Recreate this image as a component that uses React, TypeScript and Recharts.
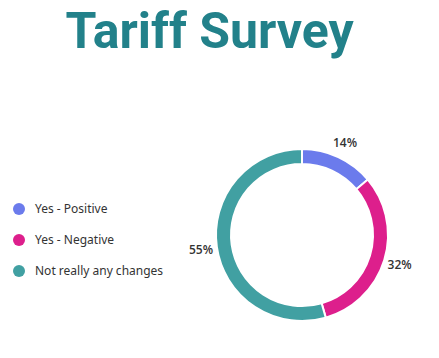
import { Cell, Pie, PieChart } from 'recharts';

const categories = ['Yes - Positive', 'Yes - Negative', 'Not really any changes'];
const shares = [14, 32, 55];
const colors = ['#6b7bec', '#dd1f8c', '#41a0a2'];

const data = categories.map((name, i) => ({ name, value: shares[i] }));

const RADIAN = Math.PI / 180;

function renderLabel(props: any) {
  const { cx, cy, midAngle, outerRadius, value } = props;
  const r = outerRadius + 16;
  const x = cx + r * Math.cos(-midAngle * RADIAN);
  const y = cy + r * Math.sin(-midAngle * RADIAN);
  return (
    <text
      x={x}
      y={y}
      fill="#333"
      fontSize={12}
      fontWeight={600}
      fontFamily="'Open Sans', sans-serif"
      textAnchor="middle"
      dominantBaseline="central"
    >
      {value}%
    </text>
  );
}

export default function App() {
  return (
    <div style={{ position: 'absolute', left: 0, top: 0, width: 439, height: 358, background: '#fff' }}>
      <div
        style={{
          position: 'absolute',
          left: 0,
          width: 419,
          top: 0,
          textAlign: 'center',
          fontFamily: 'Roboto, sans-serif',
          fontWeight: 700,
          fontSize: 50,
          lineHeight: '62px',
          color: '#22818a',
        }}
      >
        Tariff Survey
      </div>
      <div style={{ position: 'absolute', left: 13, top: 193, fontFamily: "'Noto Sans', sans-serif", fontSize: 12, color: '#333' }}>
        {categories.map((c, i) => (
          <div key={c} style={{ display: 'flex', alignItems: 'center', height: 31 }}>
            <span
              style={{ width: 12, height: 12, borderRadius: 6, background: colors[i], display: 'inline-block', marginRight: 10 }}
            />
            {c}
          </div>
        ))}
      </div>
      <PieChart
        width={439}
        height={358}
        margin={{ top: 0, right: 0, bottom: 0, left: 0 }}
        style={{ position: 'absolute', left: 0, top: 0 }}
      >
        <Pie
          data={data}
          dataKey="value"
          cx={302}
          cy={235}
          innerRadius={71}
          outerRadius={86}
          startAngle={90}
          endAngle={-270}
          stroke="#fff"
          strokeWidth={2}
          label={renderLabel}
          labelLine={false}
          isAnimationActive={false}
        >
          {data.map((d, i) => (
            <Cell key={d.name} fill={colors[i]} />
          ))}
        </Pie>
      </PieChart>
    </div>
  );
}
